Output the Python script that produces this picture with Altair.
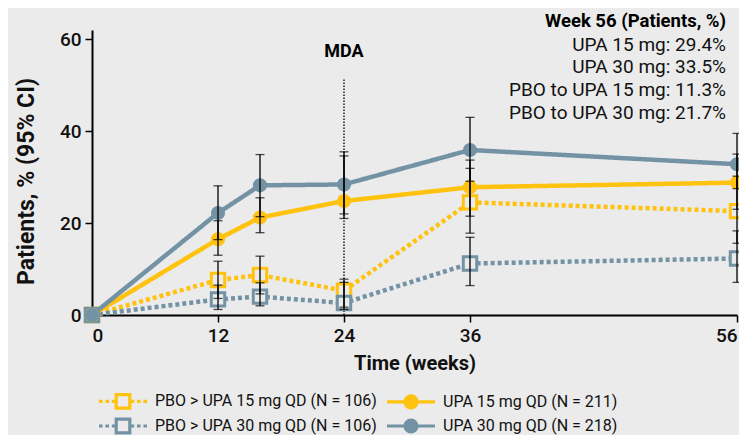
import altair as alt
import pandas as pd

# ---------------- data ----------------
weeks = [0, 12, 16, 24, 36, 56]

S_P15 = "PBO > UPA 15 mg QD (N = 106)"
S_U15 = "UPA 15 mg QD (N = 211)"
S_P30 = "PBO > UPA 30 mg QD (N = 106)"
S_U30 = "UPA 30 mg QD (N = 218)"
legend_order = [S_P15, S_U15, S_P30, S_U30]   # row-major legend order
series_order = [S_P15, S_P30, S_U15, S_U30]   # drawing order

upa15 = [0, 16.5, 21.2, 24.8, 27.8, 28.8]
upa15_lo = [None, 13.0, 17.9, 21.0, 21.5, 23.0]
upa15_hi = [None, 20.5, 25.5, 34.6, 33.7, 35.0]

upa30 = [0, 22.2, 28.2, 28.4, 35.9, 32.8]
upa30_lo = [None, 16.4, 21.4, 22.0, 29.1, 27.5]
upa30_hi = [None, 28.1, 34.9, 35.5, 43.0, 39.5]

pbo15 = [0, 7.6, 8.7, 5.3, 24.5, 22.6]
pbo15_lo = [None, 3.6, 4.6, 1.7, 17.8, 15.6]
pbo15_hi = [None, 11.7, 12.8, 7.8, 31.9, 30.2]

pbo30 = [0, 3.4, 4.0, 2.6, 11.2, 12.3]
pbo30_lo = [None, 1.2, 2.0, 1.2, 6.4, 7.1]
pbo30_hi = [None, 6.5, 7.0, 7.1, 16.9, 18.3]

x_ticks = [0, 12, 24, 36, 56]
y_ticks = [0, 20, 40, 60]

mda_label = "MDA"
ann_title = "Week 56 (Patients, %)"
ann_lines = ["UPA 15 mg: 29.4%", "UPA 30 mg: 33.5%",
             "PBO to UPA 15 mg: 11.3%", "PBO to UPA 30 mg: 21.7%"]

# ---------------- styles ----------------
BG = "#ebebeb"
YEL = "#ffc20e"
GRY = "#7393a5"
FONT = "Roboto"

rows = []
for name, v, lo, hi in [(S_P15, pbo15, pbo15_lo, pbo15_hi),
                        (S_P30, pbo30, pbo30_lo, pbo30_hi),
                        (S_U15, upa15, upa15_lo, upa15_hi),
                        (S_U30, upa30, upa30_lo, upa30_hi)]:
    for w, a, b, c in zip(weeks, v, lo, hi):
        rows.append({"week": w, "series": name, "pct": a, "lo": b, "hi": c,
                     "pbo": name.startswith("PBO")})
df = pd.DataFrame(rows)
one = pd.DataFrame({"k": [0]})

color_scale = alt.Scale(domain=series_order, range=[YEL, GRY, YEL, GRY])

x_scale = alt.Scale(domain=[0, 36, 56], range=[0, 378, 645], nice=False, zero=False)
y_scale = alt.Scale(domain=[0, 62], nice=False)

x_axis = alt.Axis(values=x_ticks, title="Time (weeks)", grid=False)
y_axis = alt.Axis(values=y_ticks, title="Patients, % (95% CI)", grid=False)

X = alt.X("week:Q", scale=x_scale, axis=x_axis)
Y = alt.Y("pct:Q", scale=y_scale, axis=y_axis)

base = alt.Chart(df)

lines = base.mark_line(strokeWidth=4.5).encode(
    x=X, y=Y,
    color=alt.Color("series:N", scale=color_scale, legend=None),
    strokeDash=alt.StrokeDash("series:N", scale=alt.Scale(
        domain=series_order, range=[[4, 3], [4, 3], [1, 0], [1, 0]]), legend=None),
    detail="series:N",
)

squares = base.transform_filter("datum.pbo").mark_point(
    shape="square", filled=False, fill=BG, strokeWidth=3, size=180, opacity=1
).encode(x=X, y=Y, color=alt.Color("series:N", scale=color_scale, legend=None))

circles = base.transform_filter("!datum.pbo").mark_circle(size=200, opacity=1).encode(
    x=X, y=Y, color=alt.Color("series:N", scale=color_scale, legend=None))

errbars = base.transform_filter("datum.week > 0").mark_errorbar(
    ticks=True, color="black", thickness=1.3, size=9
).encode(
    x=X,
    y=alt.Y("lo:Q", scale=y_scale, axis=y_axis),
    y2="hi:Q",
)

mda_rule = alt.Chart(one).mark_rule(color="black", strokeWidth=1.3, strokeDash=[1.5, 1.5]).encode(
    x=alt.datum(24), y=alt.datum(0), y2=alt.datum(51.5))
mda_text = alt.Chart(one).mark_text(
    text=mda_label, font=FONT, fontSize=18, fontWeight="bold", color="black"
).encode(x=alt.datum(24), y=alt.datum(57.2))

ann1 = alt.Chart(one).mark_text(
    text=ann_title, font=FONT, fontSize=18.5, fontWeight="bold", align="right",
    baseline="middle", dx=-11, color="black"
).encode(x=alt.datum(56), y=alt.datum(64.0))
ann2 = alt.Chart(one).mark_text(
    text=ann_lines, font=FONT, fontSize=19, align="right", baseline="top",
    dx=-11, lineHeight=22.8, color="#111111"
).encode(x=alt.datum(56), y=alt.datum(60.8))

# legend (native Vega legend with custom symbols)
P_PBO = ("M-3,0H-2.55M-2.2,0H-1.75M-1.4,0H-1.05"
         "M-0.85,-0.85H0.85V0.85H-0.85Z"
         "M1.05,0H1.4M1.75,0H2.2M2.55,0H3")
P_UPA = "M-3,0H3M-0.75,0A0.75,0.75 0 1,0 0.75,0A0.75,0.75 0 1,0 -0.75,0Z"

leg = alt.Legend(title=None, orient="none", legendX=21, legendY=361, columns=2,
                 direction="horizontal", symbolSize=256, labelFont=FONT,
                 labelFontSize=16, labelColor="#111111", labelOffset=22,
                 labelLimit=400, columnPadding=3, rowPadding=-3,
                 symbolStrokeWidth=3.2, symbolOpacity=1)

legend_layer = alt.Chart(df).transform_filter("datum.week == 0").mark_point(
    filled=True, opacity=0
).encode(
    x=X, y=Y,
    shape=alt.Shape("series:N", scale=alt.Scale(domain=legend_order,
                    range=[P_PBO, P_UPA, P_PBO, P_UPA]), legend=leg),
    stroke=alt.Stroke("series:N", scale=alt.Scale(domain=legend_order,
                      range=[YEL, YEL, GRY, GRY]), legend=leg),
    fill=alt.Fill("series:N", scale=alt.Scale(domain=legend_order,
                  range=[BG, YEL, BG, GRY]), legend=leg),
)

chart = alt.layer(
    mda_rule, lines, squares, circles, errbars, mda_text, ann1, ann2, legend_layer
).properties(
    width=645, height=285,
    autosize=alt.AutoSizeParams(type="none"),
    padding={"left": 84, "top": 22, "right": 2, "bottom": 120},
    background=BG,
).configure_view(stroke=None).configure_axis(
    domainColor="black", domainWidth=2, tickColor="black", tickWidth=1.5,
    tickSize=7, labelFont=FONT, labelFontSize=19, labelFontWeight=500,
    labelColor="#111111", titleFont=FONT, titleFontWeight="bold", titleColor="#111111",
).configure_axisX(
    labelPadding=4, titleFontSize=20, titlePadding=8,
).configure_axisY(
    labelPadding=4, titleFontSize=23, titleX=-66, titleY=151,
    titleBaseline="middle", titleAlign="center", titleAngle=270,
)

chart.save("out.html", embed_options={"renderer": "svg", "actions": False})
